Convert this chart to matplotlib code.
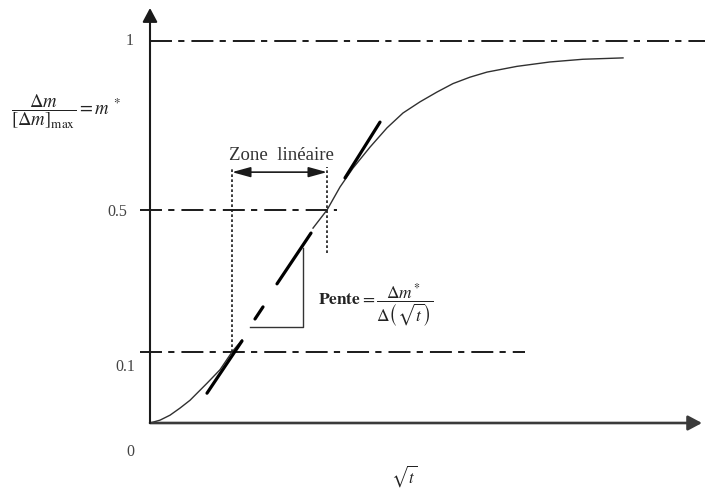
import numpy as np
import matplotlib
matplotlib.use("Agg")
import matplotlib.pyplot as plt

plt.rcParams['font.family'] = ['Liberation Serif', 'DejaVu Serif']
plt.rcParams['mathtext.fontset'] = 'stix'

# ---- data (schematic sorption curve) ----
ref_levels = [0.0, 0.1, 0.5, 1.0]          # m* reference levels
ref_labels = ["0", "0.1", "0.5", "1"]

# curve m*(sqrt t) (NaN = hidden under tangent)
sqrt_t = [0.00, 0.10, 0.20, 0.30, 0.40, 0.57, 0.70, 0.82, 0.92, np.nan,
          1.63, 1.77, 1.90, 2.03, 2.20, 2.37, 2.53, 2.70, 2.87, 3.03,
          3.20, 3.37, 3.67, 4.00, 4.33, 4.73]
m_star = [0.000, 0.004, 0.011, 0.021, 0.032, 0.056, 0.075, 0.100, 0.134, np.nan,
          0.449, 0.500, 0.568, 0.624, 0.686, 0.743, 0.787, 0.820, 0.849, 0.874,
          0.893, 0.908, 0.925, 0.938, 0.946, 0.950]

# tangent (dashed thick) segments
tangent_x = [(0.57, 0.92), (1.05, 1.13), (1.27, 1.61), (1.95, 2.30)]
tangent_m = [(0.042, 0.131), (0.193, 0.227), (0.292, 0.435), (0.595, 0.760)]

# slope triangle
tri_x = [1.00, 1.53, 1.53]
tri_m = [0.170, 0.170, 0.393]

# linear zone limits
zone_x = [0.82, 1.77]

# ---- non-linear schematic scale for m* ----
M_ext = np.array([-1.0, 0.0, 0.1, 0.5, 1.0, 2.0])
H_ext = np.array([-710.0, 0.0, 71.0, 213.0, 382.0, 720.0])

def fwd(m):
    return np.interp(m, M_ext, H_ext)

def inv(h):
    return np.interp(h, H_ext, M_ext)

fig = plt.figure(figsize=(7.07, 4.90), dpi=100)
ax = fig.add_axes([0, 0, 1, 1])
ax.set_yscale('function', functions=(fwd, inv))
ax.set_xlim(-1.5, 5.57)
ax.set_ylim(float(inv(-67)), float(inv(423)))
ax.axis('off')

dark = '#1a1a1a'
txt = '#333333'

# axes arrows
ax.annotate('', xy=(5.52, 0), xytext=(0, 0),
            arrowprops=dict(arrowstyle='-|>,head_length=0.6,head_width=0.32',
                            mutation_scale=14, lw=1.9, color='#3a3a3a',
                            shrinkA=0, shrinkB=0))
ax.annotate('', xy=(0, float(inv(415))), xytext=(0, 0),
            arrowprops=dict(arrowstyle='-|>,head_length=0.6,head_width=0.32',
                            mutation_scale=14, lw=1.5, color=dark,
                            shrinkA=0, shrinkB=0))

# dash-dot reference lines
dd = (0, (11.3, 3.2, 3.2, 3.6))
ax.plot([0, 5.55], [1.0, 1.0], color=dark, lw=1.4, linestyle=dd)
ax.plot([-0.10, 1.87], [0.5, 0.5], color=dark, lw=1.4, linestyle=dd)
ax.plot([-0.10, 3.75], [0.1, 0.1], color=dark, lw=1.4, linestyle=dd)

# curve
ax.plot(sqrt_t, m_star, color='#303030', lw=1.0)

# tangent segments
for xs, ms in zip(tangent_x, tangent_m):
    ax.plot(xs, ms, color='black', lw=2.3, solid_capstyle='round')

# triangle
ax.plot(tri_x, tri_m, color='#333333', lw=1.0)

# dotted verticals
ax.plot([zone_x[0], zone_x[0]], [0.1, 0.627], color=dark, lw=1.2, linestyle=(0, (1.6, 1.4)))
ax.plot([zone_x[1], zone_x[1]], [0.379, 0.627], color=dark, lw=1.2, linestyle=(0, (1.6, 1.4)))

# zone arrow
ax.annotate('', xy=(zone_x[1], 0.612), xytext=(zone_x[0], 0.612),
            arrowprops=dict(arrowstyle='<|-|>,head_length=0.8,head_width=0.22',
                            mutation_scale=14, lw=1.2, color=dark,
                            shrinkA=0, shrinkB=0))
ax.text(1.31, float(inv(268)), 'Zone  linéaire', ha='center', va='center',
        fontsize=13.5, color=txt)

# slope text
ax.text(1.68, float(inv(117)), r'$\mathbf{Pente} = \dfrac{\Delta m\,^{*}}{\Delta\left(\sqrt{t}\right)}$',
        ha='left', va='center', fontsize=12.5, color='#222222')

# tick labels
offsets = {"0": (-20, -29), "0.1": (-25, -15), "0.5": (-33, -2), "1": (-20, 0)}
for lev, lab in zip(ref_levels, ref_labels):
    ax.annotate(lab, xy=(0, lev), xytext=offsets[lab], textcoords='offset pixels',
                ha='center', va='center', fontsize=11.5, color='#444444')

# axis labels
fig.text(66 / 707, 1 - 112 / 490,
         r'$\dfrac{\Delta m}{\left[\Delta m\right]_{\mathrm{max}}} = m\ ^{*}$',
         ha='center', va='center', fontsize=13.5, color='#222222')
fig.text(404 / 707, 1 - 476 / 490, r'$\sqrt{t}$', ha='center', va='center',
         fontsize=12, color='#222222')

fig.savefig('out.png', dpi=100)
